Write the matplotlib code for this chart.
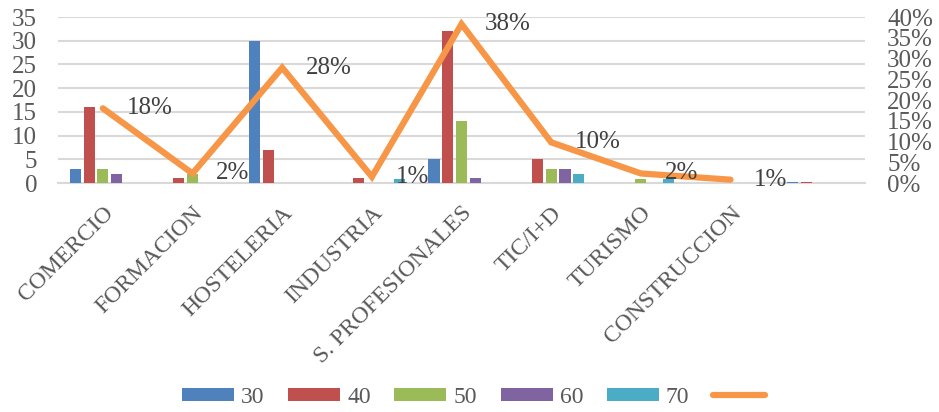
import numpy as np
import matplotlib
matplotlib.use("Agg")
import matplotlib.pyplot as plt
from matplotlib.patches import Patch
from matplotlib.lines import Line2D

plt.rcParams['font.family'] = ['Liberation Serif', 'DejaVu Serif']

# datos
categorias = ["COMERCIO", "FORMACION", "HOSTELERIA", "INDUSTRIA",
              "S. PROFESIONALES", "TIC/I+D", "TURISMO", "CONSTRUCCION", ""]
edad_30 = [3, 0, 30, 0, 5, 0, 0, 0, 0.2]
edad_40 = [16, 1, 7, 1, 32, 5, 0, 0, 0.3]
edad_50 = [3, 2, 0, 0, 13, 3, 0.8, 0, 0]
edad_60 = [2, 0, 0, 0, 1, 3, 0, 0, 0]
edad_70 = [0, 0, 0, 0.8, 0, 2, 0.9, 0, 0]
porcentaje = [0.18, 0.023, 0.278, 0.015, 0.383, 0.098, 0.023, 0.008, np.nan]
etiquetas_pct = ["18%", "2%", "28%", "1%", "38%", "10%", "2%", "1%", ""]

series = {"30": edad_30, "40": edad_40, "50": edad_50, "60": edad_60, "70": edad_70}
colores = ["#4F81BD", "#C0504D", "#9BBB59", "#8064A2", "#4BACC6"]
naranja = "#F79646"
gris_texto = "#595959"

fig = plt.figure(figsize=(9.39, 4.12), dpi=100)
ax = fig.add_axes([0.0618, 0.5558, 0.8594, 0.4029])
ax2 = ax.twinx()

x = np.arange(len(categorias))
ancho = 0.125
paso = 0.153

for i, (nombre, valores) in enumerate(series.items()):
    ax.bar(x + (i - 2) * paso, valores, width=ancho, color=colores[i], zorder=3)

ax.set_xlim(-0.5, len(categorias) - 0.5)
ax.set_ylim(0, 35)
ax.set_yticks(range(0, 36, 5))
ax.grid(axis='y', color="#D9D9D9", linewidth=1.5, zorder=0)
ax.set_axisbelow(True)

for s in ["top", "right", "left"]:
    ax.spines[s].set_visible(False)
ax.spines["bottom"].set_color("#D9D9D9")
ax.spines["bottom"].set_linewidth(1.5)
for s in ax2.spines.values():
    s.set_visible(False)

ax.tick_params(axis='y', length=0, pad=15, labelsize=18, labelcolor=gris_texto)
ax.tick_params(axis='x', length=0, pad=14, labelsize=17, labelcolor=gris_texto)
ax.set_xticks(x)
ax.set_xticklabels(categorias, rotation=45, ha='right', rotation_mode='anchor')

# linea de porcentajes
ax2.plot(x, porcentaje, color=naranja, linewidth=4.5, solid_capstyle='round',
         solid_joinstyle='miter', zorder=5)
ax2.set_ylim(0, 0.4)
ax2.set_yticks(np.arange(0, 0.401, 0.05))
ax2.set_yticklabels([f"{int(round(v * 100))}%" for v in np.arange(0, 0.401, 0.05)])
ax2.tick_params(axis='y', length=0, pad=16, labelsize=18, labelcolor=gris_texto)

for xi, p, txt in zip(x, porcentaje, etiquetas_pct):
    if txt:
        ax2.annotate(txt, (xi, p), xytext=(17, 0), textcoords='offset points',
                     ha='left', va='center', fontsize=18, color="#404040",
                     annotation_clip=False, zorder=6)

# leyenda
handles = [Patch(facecolor=c) for c in colores]
handles.append(Line2D([0], [0], color=naranja, linewidth=4.5, solid_capstyle='round'))
labels = list(series.keys()) + [""]
fig.legend(handles, labels, loc='center', bbox_to_anchor=(0.508, 0.036), ncol=6,
           frameon=False, fontsize=17, labelcolor=gris_texto, handlelength=2.2,
           handleheight=0.5, handletextpad=0.3, columnspacing=1.0)

fig.savefig("out.png", dpi=100)
